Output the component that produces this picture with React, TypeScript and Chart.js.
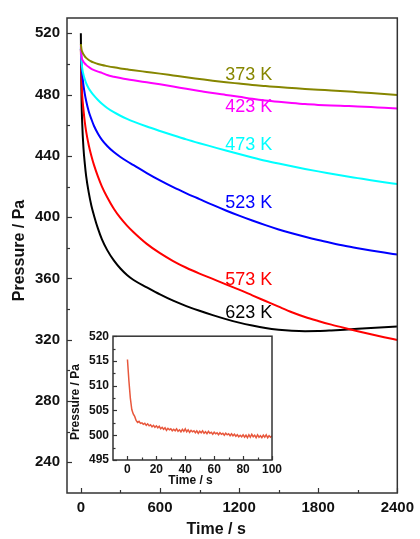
import React, { useEffect, useRef } from 'react';
import { Chart, registerables } from 'chart.js';

Chart.register(...registerables);

// ---------- main chart data ----------
const times = [0, 5, 10, 20, 30, 40, 60, 80, 100, 130, 160, 200, 250, 300, 350, 400, 500, 600, 700, 800, 900, 1000, 1100, 1200, 1300, 1400, 1500, 1600, 1700, 1800, 1900, 2000, 2100, 2200, 2300, 2400];

const p373 = [513, 509.5, 508, 506.3, 505, 504, 502.6, 501.6, 500.9, 500, 499.3, 498.6, 497.8, 497.1, 496.5, 495.9, 494.8, 493.7, 492.5, 491.3, 490.2, 489.1, 488.1, 487.2, 486.3, 485.6, 484.9, 484.3, 483.7, 483.2, 482.7, 482.2, 481.6, 481, 480.4, 479.8];
const p423 = [512, 505, 503, 501.5, 500.3, 499.4, 498, 496.8, 496, 495, 494.2, 492.8, 491.7, 490.8, 490, 489.3, 488, 486.7, 485.3, 483.8, 482.4, 481, 479.8, 478.6, 477.3, 476.2, 475.3, 474.5, 473.8, 473.3, 472.9, 472.6, 472.3, 471.9, 471.4, 471];
const p473 = [511, 502, 497.5, 493, 490, 487.5, 484, 481.5, 479.3, 476.5, 474, 471.3, 468.5, 466.2, 464.2, 462.4, 459.2, 456.3, 453.5, 450.8, 448.3, 445.9, 443.5, 441.2, 439, 436.9, 435, 433.2, 431.5, 429.9, 428.4, 426.9, 425.5, 424.1, 422.8, 421.6];
const p523 = [510, 500, 494, 486, 480.5, 476, 469, 464, 459.5, 454.5, 450.5, 446.5, 442.5, 439.3, 436.5, 434, 428.8, 424, 419.6, 415.6, 411.8, 408, 404.4, 401, 397.8, 394.8, 392, 389.5, 387.2, 385.1, 383.2, 381.4, 379.8, 378.3, 376.9, 375.6];
const p573 = [510, 490, 480, 470, 462, 456, 447, 440, 434, 426.5, 420, 413, 405.5, 399.5, 394.5, 390.2, 382.6, 376.5, 371.4, 367, 363.2, 359.7, 356.2, 352.7, 349, 345.3, 341.6, 338, 334.9, 332.3, 329.9, 327.7, 325.6, 323.6, 321.7, 319.9];
const p623 = [520, 478, 462, 445, 435, 427, 416, 407.5, 401, 392.5, 385.5, 378.5, 371.8, 366.5, 362.3, 359, 354.2, 349.6, 345.5, 342, 338.9, 336.1, 333.5, 331.2, 329.3, 327.7, 326.6, 325.9, 325.6, 325.7, 326.1, 326.6, 327.2, 327.7, 328.2, 328.6];

const seriesValues = [p373, p423, p473, p523, p573, p623];
const seriesNames = ['373 K', '423 K', '473 K', '523 K', '573 K', '623 K'];
const seriesColors = ['#868600', '#ff00ff', '#00ffff', '#0000ff', '#ff0000', '#000000'];
const labelTime = 1095;
const labelPressure = [493, 471.9, 447.2, 409.1, 358.7, 337.6];

const xMajor = [0, 600, 1200, 1800, 2400];
const xMinor = [300, 900, 1500, 2100];
const yMajor = [240, 280, 320, 360, 400, 440, 480, 520];
const yMinor = [260, 300, 340, 380, 420, 460, 500];

// ---------- inset data ----------
const insetTimes = [0, 1, 2, 3, 4, 5, 6, 7, 8, 9, 10, 11, 12, 13, 14, 15, 16, 17, 18, 19, 20, 21, 22, 23, 24, 25, 26, 27, 28, 29, 30, 31, 32, 33, 34, 35, 36, 37, 38, 39, 40, 41, 42, 43, 44, 45, 46, 47, 48, 49, 50, 51, 52, 53, 54, 55, 56, 57, 58, 59, 60, 61, 62, 63, 64, 65, 66, 67, 68, 69, 70, 71, 72, 73, 74, 75, 76, 77, 78, 79, 80, 81, 82, 83, 84, 85, 86, 87, 88, 89, 90, 91, 92, 93, 94, 95, 96, 97, 98, 99, 100];
const insetPressure = [515.3, 511, 507.5, 505.2, 504.3, 503.8, 503.0, 502.6, 502.8, 502.4, 502.5, 502.2, 502.4, 502.0, 502.3, 501.9, 502.1, 501.7, 502.0, 501.6, 501.9, 501.5, 501.8, 501.3, 501.6, 501.2, 501.5, 501.0, 501.4, 501.1, 501.3, 500.9, 501.2, 500.9, 501.3, 500.8, 501.1, 500.7, 501.2, 500.8, 501.3, 500.7, 501.1, 500.6, 501.0, 500.7, 500.9, 500.5, 500.9, 500.4, 500.8, 500.5, 500.9, 500.4, 500.7, 500.3, 500.8, 500.4, 500.6, 500.2, 500.6, 500.3, 500.5, 500.1, 500.5, 500.2, 500.4, 500.0, 500.4, 500.1, 500.3, 499.9, 500.3, 499.9, 500.2, 499.8, 500.1, 499.7, 500.0, 499.7, 500.1, 499.6, 500.0, 499.5, 500.1, 499.6, 500.2, 499.7, 500.0, 499.5, 500.1, 499.6, 499.9, 499.5, 500.0, 499.6, 500.1, 499.5, 499.9, 499.6, 499.9];
const insetXMajor = [0, 20, 40, 60, 80, 100];
const insetXMinor = [10, 30, 50, 70, 90];
const insetYMajor = [495, 500, 505, 510, 515, 520];
const insetYMinor = [497.5, 502.5, 507.5, 512.5, 517.5];

const FONT = '"Liberation Sans", Arial, sans-serif';

type TickCfg = {
  id: string;
  xMajor: number[];
  xMinor: number[];
  yMajor: number[];
  yMinor: number[];
  majorLen: number;
  minorLen: number;
  frameWidth: number;
  xTitle: string;
  yTitle: string;
  titleFont: string;
  xTitleDx: number;
  xTitleY: number;
  yTitleDx: number;
  yTitleDy: number;
};

function framePlugin(c: TickCfg) {
  return {
    id: c.id,
    afterDraw(chart: any) {
      const { ctx, chartArea: a, scales } = chart;
      ctx.save();
      ctx.strokeStyle = '#333333';
      ctx.lineWidth = c.frameWidth;
      ctx.strokeRect(a.left, a.top, a.right - a.left, a.bottom - a.top);
      ctx.lineWidth = 1.2;
      const xt = (vals: number[], len: number) =>
        vals.forEach((v) => {
          const px = Math.round(scales.x.getPixelForValue(v)) + 0.5;
          ctx.beginPath();
          ctx.moveTo(px, a.bottom);
          ctx.lineTo(px, a.bottom - len);
          ctx.stroke();
        });
      const yt = (vals: number[], len: number) =>
        vals.forEach((v) => {
          const py = Math.round(scales.y.getPixelForValue(v)) + 0.5;
          ctx.beginPath();
          ctx.moveTo(a.left, py);
          ctx.lineTo(a.left + len, py);
          ctx.stroke();
        });
      xt(c.xMajor, c.majorLen);
      xt(c.xMinor, c.minorLen);
      yt(c.yMajor, c.majorLen);
      yt(c.yMinor, c.minorLen);
      ctx.fillStyle = '#111111';
      ctx.font = c.titleFont;
      ctx.textAlign = 'center';
      ctx.textBaseline = 'middle';
      ctx.fillText(c.xTitle, (a.left + a.right) / 2 + c.xTitleDx, c.xTitleY);
      ctx.translate(a.left + c.yTitleDx, (a.top + a.bottom) / 2 + c.yTitleDy);
      ctx.rotate(-Math.PI / 2);
      ctx.fillText(c.yTitle, 0, 0);
      ctx.restore();
    },
  };
}

const seriesLabelPlugin = {
  id: 'seriesLabels',
  afterDatasetsDraw(chart: any) {
    const { ctx, scales } = chart;
    ctx.save();
    ctx.font = `18px ${FONT}`;
    ctx.textAlign = 'left';
    ctx.textBaseline = 'middle';
    seriesNames.forEach((name, i) => {
      ctx.fillStyle = seriesColors[i];
      ctx.fillText(name, scales.x.getPixelForValue(labelTime), scales.y.getPixelForValue(labelPressure[i]));
    });
    ctx.restore();
  },
};

const plainTick = (v: any) => String(v);

export default function App() {
  const mainRef = useRef<HTMLCanvasElement | null>(null);
  const insetRef = useRef<HTMLCanvasElement | null>(null);

  useEffect(() => {
    document.body.style.margin = '0';
    const mainCanvas = mainRef.current!;
    const insetCanvas = insetRef.current!;

    const main = new Chart(mainCanvas, {
      type: 'line',
      data: {
        datasets: seriesValues.map((vals, i) => ({
          label: seriesNames[i],
          data: times.map((t, j) => ({ x: t, y: vals[j] })),
          borderColor: seriesColors[i],
          borderWidth: 2,
          pointRadius: 0,
          fill: false,
          cubicInterpolationMode: 'monotone' as const,
        })),
      },
      options: {
        animation: false,
        responsive: false,
        maintainAspectRatio: false,
        layout: { padding: { top: 18, right: 19, left: 0, bottom: 0 } },
        plugins: { legend: { display: false }, tooltip: { enabled: false } },
        scales: {
          x: {
            type: 'linear',
            min: -105,
            max: 2400,
            afterBuildTicks: (s: any) => {
              s.ticks = xMajor.map((v) => ({ value: v }));
            },
            afterFit: (s: any) => {
              s.height = 46;
            },
            grid: { display: false, drawTicks: false },
            border: { display: false },
            ticks: {
              padding: 6,
              color: '#111111',
              font: { family: FONT, size: 15, weight: 'bold' },
              maxRotation: 0,
              autoSkip: false,
              callback: plainTick,
            },
          },
          y: {
            type: 'linear',
            min: 220,
            max: 530,
            afterBuildTicks: (s: any) => {
              s.ticks = yMajor.map((v) => ({ value: v }));
            },
            afterFit: (s: any) => {
              s.width = 67;
            },
            grid: { display: false, drawTicks: false },
            border: { display: false },
            ticks: {
              padding: 7,
              color: '#111111',
              font: { family: FONT, size: 15, weight: 'bold' },
              autoSkip: false,
              callback: plainTick,
            },
          },
        },
      },
      plugins: [
        seriesLabelPlugin,
        framePlugin({
          id: 'mainFrame',
          xMajor,
          xMinor,
          yMajor,
          yMinor,
          majorLen: 5,
          minorLen: 3,
          frameWidth: 1.5,
          xTitle: 'Time / s',
          yTitle: 'Pressure / Pa',
          titleFont: `bold 16px ${FONT}`,
          xTitleDx: -16,
          xTitleY: 530,
          yTitleDx: -47,
          yTitleDy: -5,
        }),
      ],
    } as any);

    const inset = new Chart(insetCanvas, {
      type: 'line',
      data: {
        datasets: [
          {
            data: insetTimes.map((t, j) => ({ x: t, y: insetPressure[j] })),
            borderColor: '#e8573c',
            borderWidth: 1.5,
            pointRadius: 0,
            fill: false,
            tension: 0,
          },
        ],
      },
      options: {
        animation: false,
        responsive: false,
        maintainAspectRatio: false,
        layout: { padding: { top: 11, right: 13, left: 0, bottom: 0 } },
        plugins: { legend: { display: false }, tooltip: { enabled: false } },
        scales: {
          x: {
            type: 'linear',
            min: -10,
            max: 100,
            afterBuildTicks: (s: any) => {
              s.ticks = insetXMajor.map((v) => ({ value: v }));
            },
            afterFit: (s: any) => {
              s.height = 35;
            },
            grid: { display: false, drawTicks: false },
            border: { display: false },
            ticks: {
              padding: 2,
              color: '#111111',
              font: { family: FONT, size: 12, weight: 'bold' },
              maxRotation: 0,
              autoSkip: false,
              callback: plainTick,
            },
          },
          y: {
            type: 'linear',
            min: 495,
            max: 520,
            afterBuildTicks: (s: any) => {
              s.ticks = insetYMajor.map((v) => ({ value: v }));
            },
            afterFit: (s: any) => {
              s.width = 53;
            },
            grid: { display: false, drawTicks: false },
            border: { display: false },
            ticks: {
              padding: 4,
              color: '#111111',
              font: { family: FONT, size: 12, weight: 'bold' },
              autoSkip: false,
              callback: plainTick,
            },
          },
        },
      },
      plugins: [
        framePlugin({
          id: 'insetFrame',
          xMajor: insetXMajor,
          xMinor: insetXMinor,
          yMajor: insetYMajor,
          yMinor: insetYMinor,
          majorLen: 4,
          minorLen: 2.5,
          frameWidth: 1.5,
          xTitle: 'Time / s',
          yTitle: 'Pressure / Pa',
          titleFont: `bold 12px ${FONT}`,
          xTitleDx: -2,
          xTitleY: 156,
          yTitleDx: -37,
          yTitleDy: 4,
        }),
      ],
    } as any);

    return () => {
      main.destroy();
      inset.destroy();
    };
  }, []);

  return (
    <div style={{ position: 'relative', width: 420, height: 539, background: '#ffffff' }}>
      <canvas ref={mainRef} width={420} height={539} style={{ position: 'absolute', left: 0, top: 0, width: 420, height: 539 }} />
      <canvas ref={insetRef} width={225} height={170} style={{ position: 'absolute', left: 60, top: 325, width: 225, height: 170 }} />
    </div>
  );
}
